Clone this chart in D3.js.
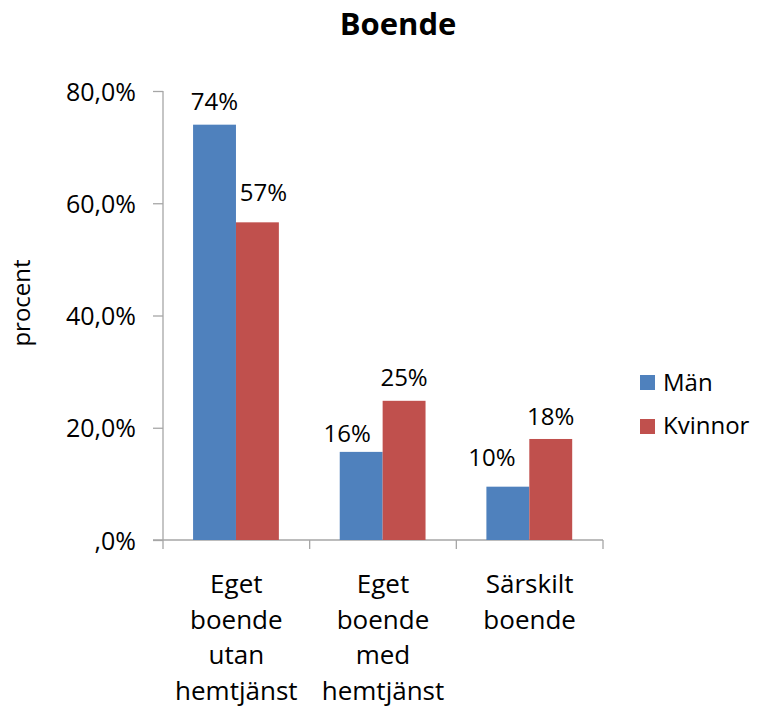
<!DOCTYPE html>
<html><head><meta charset="utf-8">
<script src="https://cdn.jsdelivr.net/npm/d3@7"></script>
<style>body{margin:0;background:#fff}svg{display:block}text{font-family:"Open Sans",Lato,sans-serif;fill:#000}</style>
</head><body>
<svg id="c" width="759" height="708"></svg>
<script>
const categories = [["Eget","boende","utan","hemtjänst"],["Eget","boende","med","hemtjänst"],["Särskilt","boende"]];
const seriesNames = ["Män","Kvinnor"];
const manValues = [74.0, 15.7, 9.5];
const kvinnorValues = [56.6, 24.8, 18.0];
const yTicks = [0, 20, 40, 60, 80];
const yTickLabels = [",0%", "20,0%", "40,0%", "60,0%", "80,0%"];
const colors = ["#4F81BD", "#C0504D"];

const svg = d3.select("#c");
const y = d3.scaleLinear().domain([0, 80]).range([540, 91]);
const x0 = d3.scaleBand().domain(d3.range(categories.length)).range([163, 603]).padding(0);
const x1 = d3.scaleBand().domain([0, 1]).range([x0.bandwidth()*0.205, x0.bandwidth()*0.79]).padding(0);

// title
svg.append("text").attr("x", 398).attr("y", 35).attr("text-anchor", "middle")
  .style("font-size", "31px").style("font-weight", "bold").text("Boende");

// y axis title
svg.append("text").attr("transform", "translate(30,303) rotate(-90)").attr("text-anchor", "middle")
  .style("font-size", "24px").text("procent");

// y axis
const yAxis = d3.axisLeft(y).tickValues(yTicks).tickSize(10).tickPadding(17)
  .tickFormat((d, i) => yTickLabels[i]);
const gy = svg.append("g").attr("transform", "translate(163,0)").call(yAxis);
gy.select(".domain").attr("stroke", "#A6A6A6").attr("stroke-width", 1.3).attr("d", "M0,91V540");
gy.selectAll(".tick line").attr("stroke", "#A6A6A6").attr("stroke-width", 1.3);
gy.selectAll(".tick text").style("font-size", "25px").attr("fill", "#000").attr("font-family", null).attr("dy", "0.36em");

// x axis
const xAxisG = svg.append("g");
xAxisG.append("line").attr("x1", 153).attr("x2", 603).attr("y1", y(0)).attr("y2", y(0))
  .attr("stroke", "#A6A6A6").attr("stroke-width", 1.3);
const seps = d3.range(categories.length + 1).map(i => i < categories.length ? x0(i) : x0(i-1) + x0.bandwidth());
xAxisG.selectAll("line.sep").data(seps).join("line").attr("class", "sep")
  .attr("x1", d => d).attr("x2", d => d).attr("y1", y(0)).attr("y2", y(0) + 9)
  .attr("stroke", "#A6A6A6").attr("stroke-width", 1.3);

// category labels
categories.forEach((lines, i) => {
  const t = svg.append("text").attr("text-anchor", "middle").style("font-size", "26px");
  lines.forEach((l, j) => {
    t.append("tspan").attr("x", x0(i) + x0.bandwidth()/2).attr("y", 593 + j*35.5).text(l);
  });
});

// bars
const series = [manValues, kvinnorValues];
const fmt = v => d3.format(".0f")(v) + "%";
const labelDx = [[0, 6], [-14, 0], [-16, 0]];
const labelGap = [[15, 21], [10, 15], [21, 14]];
series.forEach((vals, s) => {
  svg.append("g").selectAll("rect").data(vals).join("rect")
    .attr("x", (d, i) => x0(i) + x1(s))
    .attr("y", d => y(d))
    .attr("width", x1.bandwidth())
    .attr("height", d => y(0) - y(d))
    .attr("fill", colors[s]);
  svg.append("g").selectAll("text").data(vals).join("text")
    .attr("x", (d, i) => x0(i) + x1(s) + x1.bandwidth()/2 + labelDx[i][s])
    .attr("y", (d, i) => y(d) - labelGap[i][s])
    .attr("text-anchor", "middle").style("font-size", "24px")
    .text(d => fmt(d));
});

// legend
const lg = svg.append("g");
seriesNames.forEach((n, i) => {
  lg.append("rect").attr("x", 640).attr("y", 375 + i*44).attr("width", 15).attr("height", 15).attr("fill", colors[i]);
  lg.append("text").attr("x", 663).attr("y", 391 + i*43).style("font-size", "24px").text(n);
});
</script>
</body></html>
